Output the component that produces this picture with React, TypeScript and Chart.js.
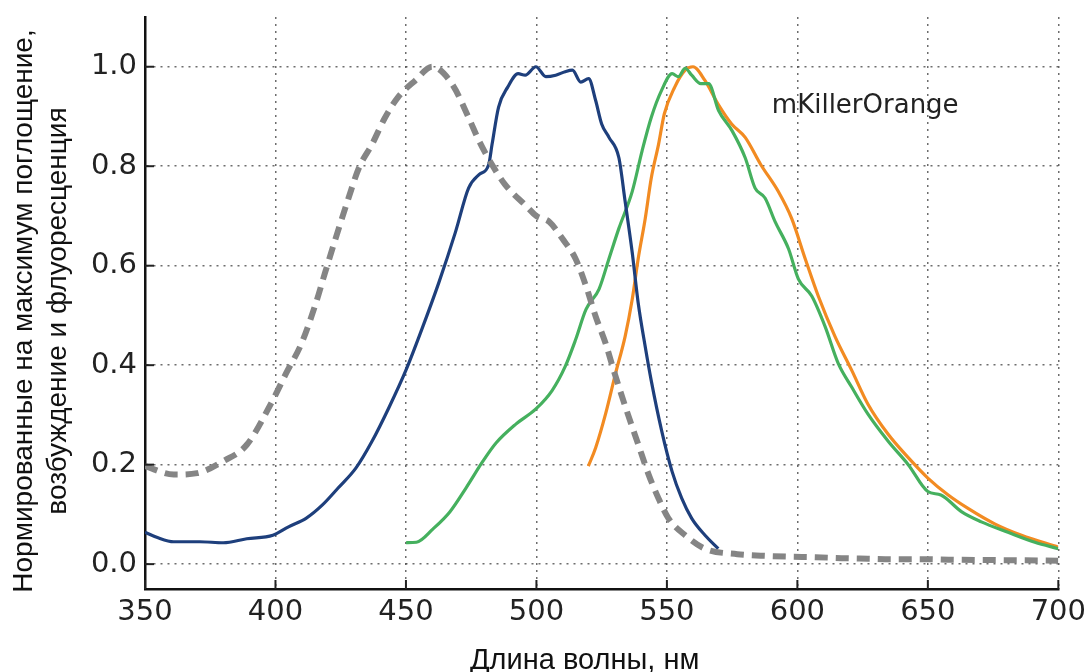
import React, { useEffect, useRef } from "react";
import { Chart, registerables } from "chart.js";

Chart.register(...registerables);

// Wavelength ticks and value ticks
const xTicks = [350, 400, 450, 500, 550, 600, 650, 700];
const yTicks = [0.0, 0.2, 0.4, 0.6, 0.8, 1.0];

// Gray dashed curve (absorbance)
const grayX = [350, 361, 370, 380, 389, 399, 404, 410, 415.5, 419, 423, 428, 432, 437, 442, 447, 453.7, 460, 467.6, 474, 478, 483, 488, 495.7, 500, 505, 510, 515, 519, 522.7, 526.5, 530, 535, 539, 543, 546.8, 550.6, 557, 564.6, 577, 586, 597, 607, 617, 627, 637, 648, 658, 678, 700];
const grayY = [0.197, 0.18, 0.183, 0.207, 0.24, 0.33, 0.383, 0.444, 0.525, 0.586, 0.654, 0.736, 0.797, 0.844, 0.898, 0.939, 0.973, 1.0, 0.966, 0.898, 0.851, 0.803, 0.763, 0.722, 0.70, 0.688, 0.654, 0.614, 0.559, 0.498, 0.444, 0.383, 0.302, 0.241, 0.18, 0.132, 0.092, 0.058, 0.031, 0.02, 0.017, 0.015, 0.014, 0.012, 0.011, 0.01, 0.01, 0.009, 0.008, 0.007];

// Blue curve (excitation)
const blueX = [350, 354.5, 361, 371, 380, 389, 399, 405, 411.7, 418, 424, 430.8, 437, 443.5, 450, 456, 462.6, 469, 474, 478, 481.7, 483, 485.5, 489, 493, 495.7, 499.8, 503.6, 507.4, 511, 513.8, 517, 520, 522.7, 525, 527.8, 531.6, 534, 536.7, 539, 541.7, 544, 548, 552, 555.7, 559.5, 564.6, 569.7];
const blueY = [0.064, 0.054, 0.045, 0.045, 0.043, 0.051, 0.058, 0.075, 0.092, 0.119, 0.153, 0.193, 0.247, 0.315, 0.39, 0.471, 0.566, 0.668, 0.756, 0.783, 0.803, 0.844, 0.919, 0.959, 0.986, 0.983, 1.0, 0.98, 0.983, 0.99, 0.993, 0.969, 0.976, 0.932, 0.885, 0.858, 0.817, 0.729, 0.627, 0.525, 0.437, 0.369, 0.268, 0.186, 0.132, 0.092, 0.058, 0.031];

// Green curve
const greenX = [450, 454, 460.4, 466.8, 473, 479.5, 484.6, 492, 499.8, 506, 511, 515, 519, 524, 527.8, 531.6, 536.7, 540.5, 544, 548, 552, 554.4, 557, 559.5, 563, 566, 569.8, 575, 580, 583.8, 587.6, 591.5, 596.6, 600.4, 605.5, 610.6, 615.7, 620.8, 627, 634.8, 642.5, 650, 655, 663, 670.5, 680.7, 691, 700];
const greenY = [0.043, 0.044, 0.071, 0.105, 0.153, 0.207, 0.244, 0.281, 0.312, 0.349, 0.397, 0.451, 0.512, 0.553, 0.614, 0.675, 0.749, 0.831, 0.898, 0.953, 0.986, 0.98, 0.997, 0.983, 0.966, 0.966, 0.912, 0.871, 0.817, 0.756, 0.736, 0.688, 0.634, 0.573, 0.539, 0.478, 0.403, 0.356, 0.302, 0.247, 0.2, 0.146, 0.139, 0.105, 0.085, 0.064, 0.044, 0.031];

// Orange curve (emission)
const orangeX = [519.9, 522.7, 526.5, 530.3, 534, 536.7, 539, 541.7, 544, 546.8, 549, 553, 557, 560, 564.5, 569.6, 574.8, 580, 586, 592.7, 597.8, 603, 608, 614.4, 620.8, 627, 634.8, 642.5, 650, 657.8, 665.4, 675.6, 685.9, 700];
const orangeY = [0.197, 0.234, 0.302, 0.383, 0.458, 0.532, 0.614, 0.695, 0.776, 0.844, 0.905, 0.959, 0.993, 1.0, 0.973, 0.925, 0.885, 0.858, 0.803, 0.749, 0.695, 0.614, 0.539, 0.458, 0.39, 0.322, 0.261, 0.214, 0.173, 0.139, 0.112, 0.081, 0.058, 0.034];

const xTitle = "Длина волны, нм";
const yTitle = ["Нормированные на максимум поглощение,", "возбуждение и флуоресценция"];
const annotation = { text: "mKillerOrange", x: 626, y: 0.92 };

const toPoints = (xs: number[], ys: number[]) => xs.map((x, i) => ({ x, y: ys[i] }));

const extrasPlugin = {
  id: "extras",
  afterDatasetsDraw(chart: any) {
    const { ctx, scales, chartArea } = chart;
    const xs = scales.x;
    const ys = scales.y;
    ctx.save();
    // inward tick marks
    ctx.strokeStyle = "#222";
    ctx.lineWidth = 2;
    xTicks.forEach((t) => {
      const px = xs.getPixelForValue(t);
      ctx.beginPath();
      ctx.moveTo(px, ys.bottom);
      ctx.lineTo(px, ys.bottom - 9);
      ctx.stroke();
    });
    yTicks.forEach((t) => {
      const py = ys.getPixelForValue(t);
      ctx.beginPath();
      ctx.moveTo(xs.left, py);
      ctx.lineTo(xs.left + 9, py);
      ctx.stroke();
    });
    // annotation text
    ctx.fillStyle = "#222";
    ctx.font = "26px 'DejaVu Sans'";
    ctx.textAlign = "center";
    ctx.textBaseline = "middle";
    ctx.fillText(annotation.text, xs.getPixelForValue(annotation.x), ys.getPixelForValue(annotation.y));
    // x axis title
    ctx.fillStyle = "#111";
    ctx.font = "29px 'Liberation Sans', Arial";
    ctx.textBaseline = "alphabetic";
    ctx.fillText(xTitle, (chartArea.left + chartArea.right) / 2 - 17, chart.height - 3);
    // y axis title (two rotated lines)
    ctx.font = "28px 'Liberation Sans', Arial";
    const cy = (chartArea.top + chartArea.bottom) / 2 + 8;
    [32, 66].forEach((bx, i) => {
      ctx.save();
      ctx.translate(bx, cy);
      ctx.rotate(-Math.PI / 2);
      ctx.fillText(yTitle[i], 0, 0);
      ctx.restore();
    });
    ctx.restore();
  },
};

export default function App() {
  const ref = useRef<HTMLCanvasElement | null>(null);
  useEffect(() => {
    if (!ref.current) return;
    const lineCommon = {
      pointRadius: 0,
      fill: false,
      cubicInterpolationMode: "monotone" as const,
    };
    const chart = new Chart(ref.current, {
      type: "line",
      data: {
        datasets: [
          { ...lineCommon, label: "abs", data: toPoints(grayX, grayY), borderColor: "#858585", borderWidth: 6, borderDash: [13, 8] },
          { ...lineCommon, label: "ex", data: toPoints(blueX, blueY), borderColor: "#1e3f7c", borderWidth: 3.2 },
          { ...lineCommon, label: "green", data: toPoints(greenX, greenY), borderColor: "#45b05e", borderWidth: 3.2 },
          { ...lineCommon, label: "em", data: toPoints(orangeX, orangeY), borderColor: "#f28b22", borderWidth: 3.2 },
        ],
      },
      options: {
        animation: false,
        responsive: false,
        parsing: false as any,
        layout: { padding: { top: 17, right: 30, left: 0, bottom: 0 } },
        plugins: { legend: { display: false }, tooltip: { enabled: false } },
        scales: {
          x: {
            type: "linear",
            min: 350,
            max: 700,
            afterBuildTicks: (s: any) => { s.ticks = xTicks.map((v) => ({ value: v })); },
            afterFit: (s: any) => { s.height = 83; },
            ticks: {
              color: "#222",
              font: { family: "'DejaVu Sans'", size: 29 },
              padding: 6,
              maxRotation: 0,
              autoSkip: false,
              callback: (v: any) => String(v),
            },
            grid: { color: "rgba(60,60,60,0.75)", lineWidth: 1.5, drawTicks: false },
            border: { display: true, color: "#111", width: 2.5, dash: [2, 5] } as any,
            title: { display: false },
          },
          y: {
            type: "linear",
            min: -0.05,
            max: 1.1,
            afterBuildTicks: (s: any) => { s.ticks = yTicks.map((v) => ({ value: v })); },
            afterFit: (s: any) => { s.width = 145; s.paddingTop = 0; s.paddingBottom = 0; },
            ticks: {
              color: "#222",
              font: { family: "'DejaVu Sans'", size: 29 },
              padding: 8,
              callback: (v: any) => Number(v).toFixed(1),
            },
            grid: { color: "rgba(60,60,60,0.75)", lineWidth: 1.5, drawTicks: false },
            border: { display: true, color: "#111", width: 2.5, dash: [2, 5] } as any,
            title: { display: false },
          },
        },
      },
      plugins: [extrasPlugin],
    } as any);
    return () => chart.destroy();
  }, []);
  return (
    <div style={{ position: "absolute", left: 0, top: 0, width: 1092, height: 672, background: "#fff" }}>
      <canvas ref={ref} width={1092} height={672} style={{ width: 1092, height: 672 }} />
    </div>
  );
}
